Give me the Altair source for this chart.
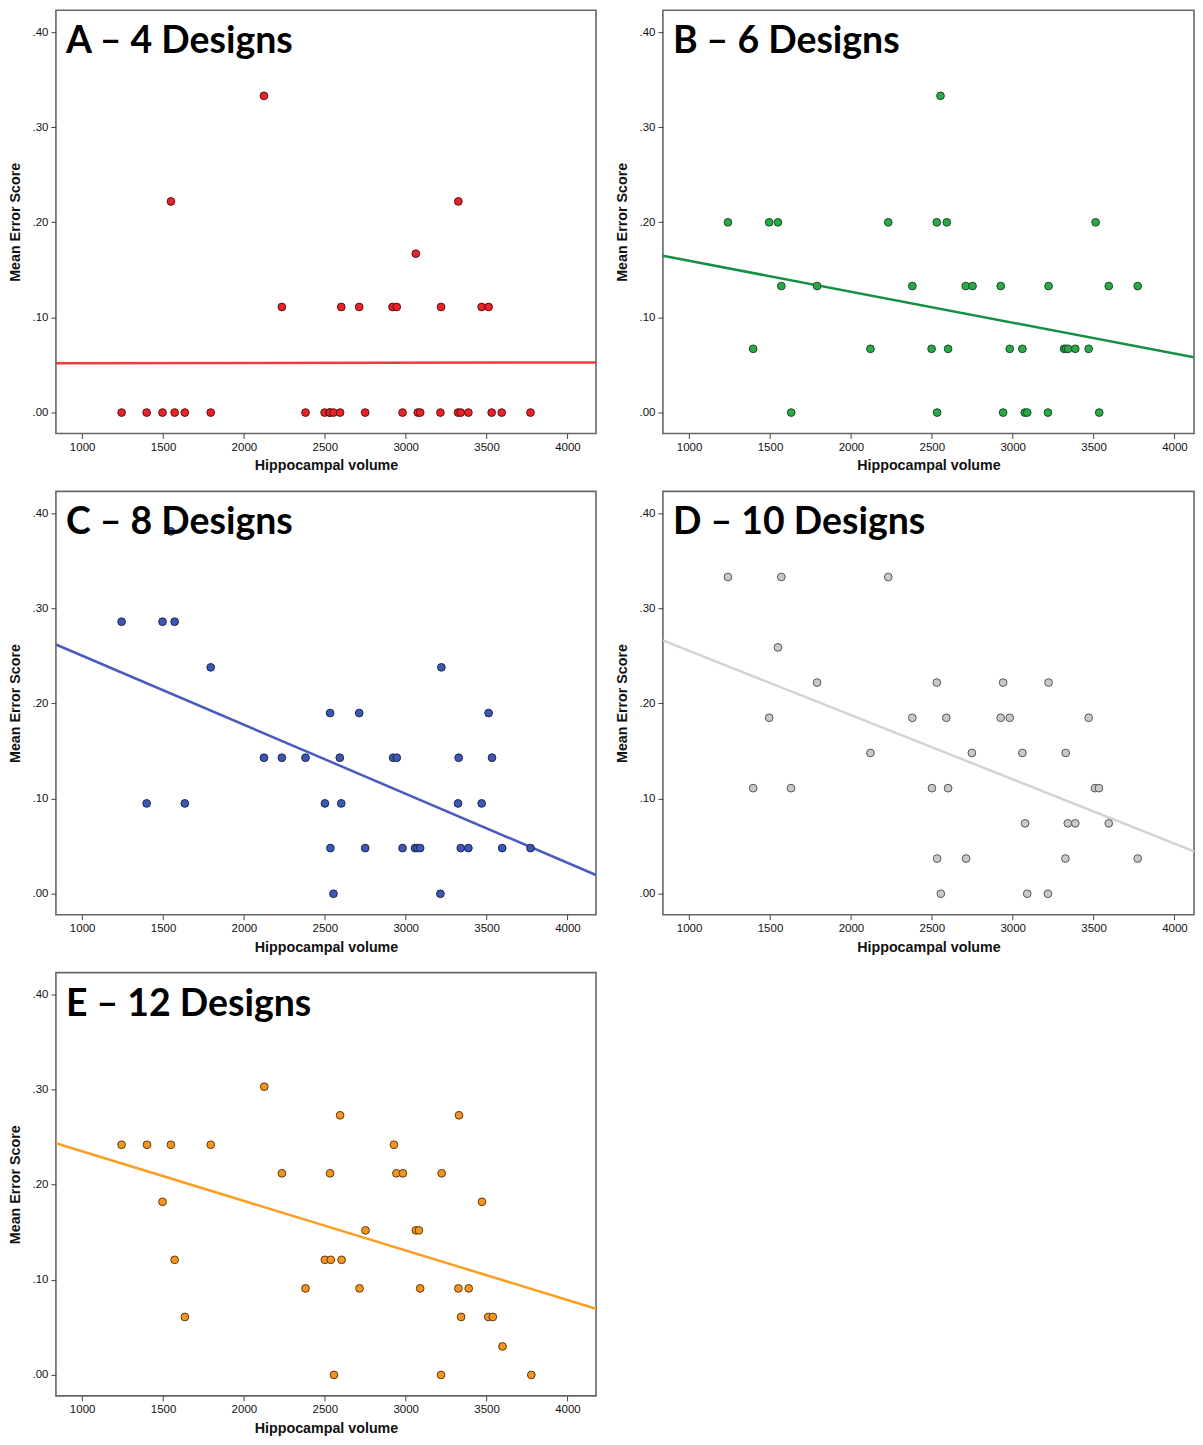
import altair as alt
import pandas as pd

# ---- data ----
labels = ["A \u2013 4 Designs", "B \u2013 6 Designs", "C \u2013 8 Designs", "D \u2013 10 Designs", "E \u2013 12 Designs"]

xa = [2124, 1549, 3326, 3063, 2235, 2602, 2713, 2919, 2945, 3219, 3470, 3513,
      1244, 1399, 1497, 1572, 1635, 1795, 2381, 2499, 2529, 2533, 2554, 2595, 2750,
      2981, 3075, 3090, 3215, 3324, 3341, 3388, 3532, 3594, 3772]
ya = [0.333, 0.222, 0.222, 0.167, 0.111, 0.111, 0.111, 0.111, 0.111, 0.111, 0.111, 0.111,
      0, 0, 0, 0, 0, 0, 0, 0, 0, 0, 0, 0, 0, 0, 0, 0, 0, 0, 0, 0, 0, 0, 0]

xb = [2554, 1240, 1495, 1549, 2231, 2531, 2593, 3513, 1570, 1791, 2380, 2710, 2752, 2926,
      3222, 3594, 3773, 1396, 2121, 2499, 2601, 2982, 3060, 3318, 3330, 3343, 3387, 3470,
      1631, 2533, 2941, 3075, 3090, 3218, 3535]
yb = [0.333, 0.200, 0.200, 0.200, 0.200, 0.200, 0.200, 0.200,
      0.133, 0.133, 0.133, 0.133, 0.133, 0.133, 0.133, 0.133, 0.133,
      0.067, 0.067, 0.067, 0.067, 0.067, 0.067, 0.067, 0.067, 0.067, 0.067, 0.067,
      0, 0, 0, 0, 0, 0, 0]

xc = [1549, 1244, 1497, 1572, 1795, 3221, 2533, 2713, 3513, 2124, 2235, 2381, 2593, 2923,
      2945, 3328, 3534, 1399, 1635, 2501, 2602, 3324, 3470, 2535, 2750, 2981, 3058, 3073,
      3090, 3341, 3388, 3597, 3772, 2554, 3215]
yc = [0.381, 0.286, 0.286, 0.286, 0.238, 0.238, 0.190, 0.190, 0.190,
      0.143, 0.143, 0.143, 0.143, 0.143, 0.143, 0.143, 0.143,
      0.095, 0.095, 0.095, 0.095, 0.095, 0.095,
      0.048, 0.048, 0.048, 0.048, 0.048, 0.048, 0.048, 0.048, 0.048, 0.048, 0, 0]

xd = [1240, 1570, 2231, 1549, 1791, 2531, 2941, 3222, 1495, 2380, 2590, 2926, 2982, 3470,
      2121, 2748, 3060, 3328, 1396, 1630, 2501, 2601, 3509, 3533, 3077, 3341, 3387, 3594,
      2533, 2712, 3326, 3773, 2556, 3090, 3218]
yd = [0.333, 0.333, 0.333, 0.259, 0.222, 0.222, 0.222, 0.222,
      0.185, 0.185, 0.185, 0.185, 0.185, 0.185, 0.148, 0.148, 0.148, 0.148,
      0.111, 0.111, 0.111, 0.111, 0.111, 0.111, 0.074, 0.074, 0.074, 0.074,
      0.037, 0.037, 0.037, 0.037, 0, 0, 0]

xe = [2126, 2595, 3330, 1244, 1401, 1549, 1795, 2928, 2235, 2533, 2943, 2983, 3223, 1497,
      3472, 2752, 3063, 3082, 1572, 2501, 2537, 2604, 2381, 2715, 3090, 3326, 3390, 1635,
      3343, 3511, 3539, 3599, 2557, 3219, 3777]
ye = [0.303, 0.273, 0.273, 0.242, 0.242, 0.242, 0.242, 0.242,
      0.212, 0.212, 0.212, 0.212, 0.212, 0.182, 0.182, 0.152, 0.152, 0.152,
      0.121, 0.121, 0.121, 0.121, 0.091, 0.091, 0.091, 0.091, 0.091,
      0.061, 0.061, 0.061, 0.061, 0.030, 0, 0, 0]

fills = ["#e8232a", "#2aa84a", "#3c58b4", "#c9c9c9", "#f7941d"]
strokes = ["#5a1010", "#174d22", "#1c2650", "#555555", "#5a3a10"]
lines = ["#ee3a3d", "#139046", "#4a5bbf", "#d3d3d3", "#fb9e22"]

XDOM = [838, 4177]          # full x range of the left-column panels
XDOM_R = [838, 4121]        # right-column panels are cut off by the page edge
YDOM = [-0.022, 0.423]
W, W_R, H = 541, 532, 424


def panel(xs, ys, label, fill, stroke, line, xdom, width):
    df = pd.DataFrame({"x": xs, "y": ys})
    xenc = alt.X("x:Q", scale=alt.Scale(domain=xdom, nice=False, zero=False),
                 axis=alt.Axis(values=[1000, 1500, 2000, 2500, 3000, 3500, 4000],
                               title="Hippocampal volume", format="d"))
    yenc = alt.Y("y:Q", scale=alt.Scale(domain=YDOM, nice=False, zero=False),
                 axis=alt.Axis(values=[0, 0.1, 0.2, 0.3, 0.4], title="Mean Error Score",
                               labelExpr="replace(format(datum.value, '.2f'), '0.', '.')"))
    fit = alt.Chart(df).transform_regression("x", "y", extent=xdom).mark_line(
        color=line, strokeWidth=2.5, clip=True).encode(x=xenc, y=yenc)
    pts = alt.Chart(df).mark_point(filled=True, size=60, fill=fill, stroke=stroke,
                                   strokeWidth=1, opacity=1).encode(x=xenc, y=yenc)
    ttl = alt.Chart(pd.DataFrame({"t": [label]})).mark_text(
        align="left", baseline="top", font="Lato", fontWeight="bold", fontSize=37.5,
        color="black").encode(x=alt.value(10), y=alt.value(13), text="t:N")
    return alt.layer(fit, pts, ttl).properties(width=width, height=H)


pa = panel(xa, ya, labels[0], fills[0], strokes[0], lines[0], XDOM, W)
pb = panel(xb, yb, labels[1], fills[1], strokes[1], lines[1], XDOM_R, W_R)
pc = panel(xc, yc, labels[2], fills[2], strokes[2], lines[2], XDOM, W)
pd_ = panel(xd, yd, labels[3], fills[3], strokes[3], lines[3], XDOM_R, W_R)
pe = panel(xe, ye, labels[4], fills[4], strokes[4], lines[4], XDOM, W)

chart = alt.vconcat(
    alt.hconcat(pa, pb, spacing=18),
    alt.hconcat(pc, pd_, spacing=18),
    alt.hconcat(pe, spacing=18),
    spacing=16,
).properties(padding=0).configure_view(
    stroke="#666666", strokeWidth=1.6
).configure_axis(
    domain=False, grid=False, tickColor="#444444", tickSize=5, tickWidth=1,
    labelFont="Liberation Sans", labelFontSize=11.5, labelColor="#111111",
    titleFont="Liberation Sans", titleFontSize=14.3, titleFontWeight="bold",
    titleColor="#111111", labelPadding=3
).configure_axisY(titlePadding=9).configure_axisX(titlePadding=6)

chart.save("out.html", embed_options={"renderer": "svg", "actions": False})
